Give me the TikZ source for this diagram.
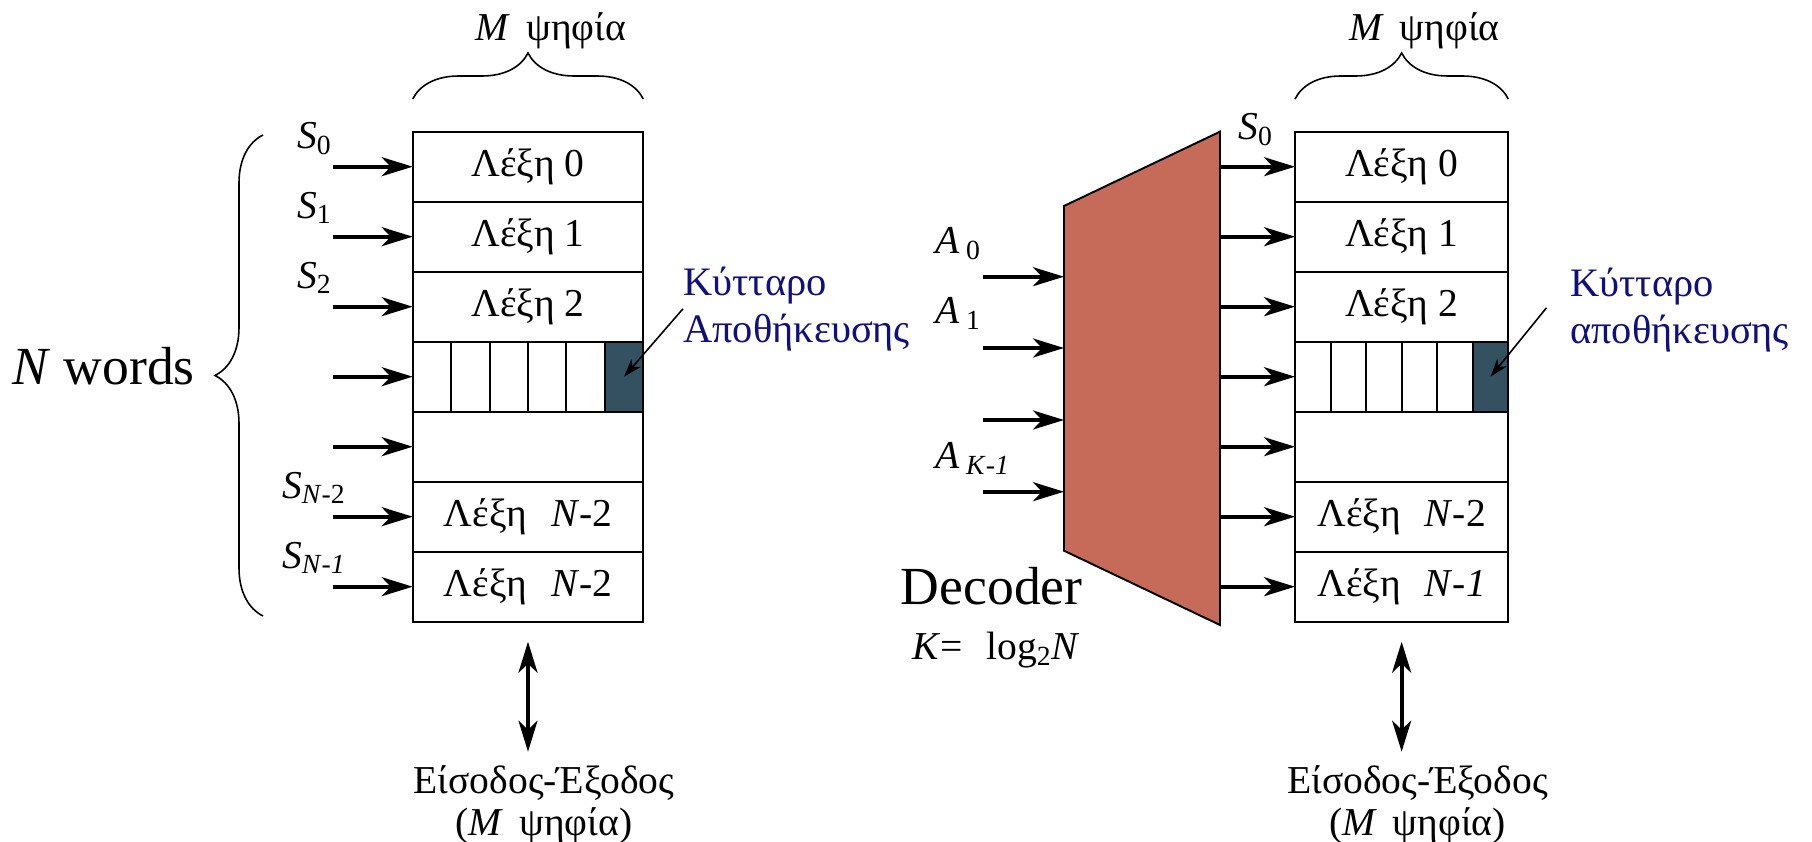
\documentclass[tikz,border=0pt]{standalone}
\usepackage{fontspec}
\setmainfont{Liberation Serif}
\usepackage{xcolor}
\usepackage{tikz}
\usetikzlibrary{arrows.meta,positioning,decorations.pathreplacing,calc}
\definecolor{celldark}{RGB}{52,81,97}
\definecolor{decfill}{RGB}{198,107,90}
\definecolor{notenavy}{RGB}{15,15,125}
\tikzset{
  bighead/.tip={Stealth[length=0.62cm, width=0.38cm, inset=0.18cm]},
  smallhead/.tip={Stealth[length=0.36cm, width=0.24cm, inset=0.1cm]},
  wordrow/.style={draw, line width=1.1pt, minimum height=1.4cm, inner sep=0pt,
                  outer sep=0pt, font=\fontsize{22.5}{24}\selectfont},
  bitcell/.style={draw, line width=1.1pt, minimum height=1.4cm, inner sep=0pt, outer sep=0pt},
  selarrow/.style={-bighead, line width=2.2pt},
  ioarrow/.style={bighead-bighead, line width=2.2pt},
  notearrow/.style={-smallhead, line width=0.9pt},
  curly/.style={decorate, decoration={brace, amplitude=0.92cm}, line width=0.9pt},
  lbl/.style={inner sep=0pt, font=\fontsize{22.5}{24}\selectfont},
  biglbl/.style={inner sep=0pt, font=\fontsize{30.5}{36}\selectfont},
  note/.style={inner sep=0pt, align=left, text=notenavy, font=\fontsize{23}{26.6}\selectfont},
  decoder/.style={draw, line width=1.1pt, fill=decfill},
}
\newcommand{\sig}[2]{\textit{#1}\textsubscript{#2}}
% one memory of N words, #1 prefix, #2 width, #3 last word
\newcommand{\memblock}[3]{%
  \node[wordrow, minimum width=#2, anchor=north west] (#1w0) at (0,0) {Λέξη 0};
  \node[wordrow, minimum width=#2, below=0pt of #1w0] (#1w1) {Λέξη 1};
  \node[wordrow, minimum width=#2, below=0pt of #1w1] (#1w2) {Λέξη 2};
  \node[wordrow, minimum width=#2, below=0pt of #1w2] (#1w3) {};
  \node[wordrow, minimum width=#2, below=0pt of #1w3] (#1w4) {};
  \node[wordrow, minimum width=#2, below=0pt of #1w4] (#1w5) {Λέξη\hspace{0.6em}\textit{N}-2};
  \node[wordrow, minimum width=#2, below=0pt of #1w5] (#1w6) {Λέξη\hspace{0.6em}#3};
  \node[bitcell, minimum width=#2/6, anchor=west] (#1c1) at (#1w3.west) {};
  \node[bitcell, minimum width=#2/6, right=0pt of #1c1] (#1c2) {};
  \node[bitcell, minimum width=#2/6, right=0pt of #1c2] (#1c3) {};
  \node[bitcell, minimum width=#2/6, right=0pt of #1c3] (#1c4) {};
  \node[bitcell, minimum width=#2/6, right=0pt of #1c4] (#1c5) {};
  \node[bitcell, minimum width=#2/6, right=0pt of #1c5, fill=celldark] (#1c6) {};
}

\begin{document}
\begin{tikzpicture}[font=\fontsize{22.5}{24}\selectfont]
    \useasboundingbox (0,0) rectangle (36.24,-16.84);
    % left: memory with select lines
    \begin{scope}[shift={(8.254,-2.634)}]
      \memblock{L}{4.612cm}{\textit{N}-2}
    \end{scope}
    \draw[selarrow] ([xshift=-1.6cm]Lw0.west) -- (Lw0.west);
    \draw[selarrow] ([xshift=-1.6cm]Lw1.west) -- (Lw1.west);
    \draw[selarrow] ([xshift=-1.6cm]Lw2.west) -- (Lw2.west);
    \draw[selarrow] ([xshift=-1.6cm]Lw3.west) -- (Lw3.west);
    \draw[selarrow] ([xshift=-1.6cm]Lw4.west) -- (Lw4.west);
    \draw[selarrow] ([xshift=-1.6cm]Lw5.west) -- (Lw5.west);
    \draw[selarrow] ([xshift=-1.6cm]Lw6.west) -- (Lw6.west);
    \node[lbl, anchor=base west] (ls0) at ([xshift=-2.32cm, yshift=0.37cm]Lw0.west) {\sig{S}{0}};
    \node[lbl, anchor=base west] (ls1) at ([xshift=-2.32cm, yshift=0.37cm]Lw1.west) {\sig{S}{1}};
    \node[lbl, anchor=base west] (ls2) at ([xshift=-2.32cm, yshift=0.37cm]Lw2.west) {\sig{S}{2}};
    \node[lbl, anchor=base west] (lsn2) at ([xshift=-2.62cm, yshift=0.37cm]Lw5.west) {\sig{S}{\textit{N}-2}};
    \node[lbl, anchor=base west] (lsn1) at ([xshift=-2.62cm, yshift=0.37cm]Lw6.west) {\sig{S}{\textit{N}-\textit{1}}};
    \draw[curly] ([yshift=0.654cm]Lw0.north west) -- ([yshift=0.654cm]Lw0.north east);
    \node[lbl, anchor=base] (lbits) at (11.02,-0.814) {\textit{M}\hspace{0.4em}ψηφία};
    \draw[curly, decoration={brace, amplitude=0.96cm}] (5.26,-12.32) -- (5.26,-2.7);
    \node[biglbl, anchor=base west] (nwords) at (0.234,-7.7) {\textit{N} words};
    \node[note, anchor=north west] (lnote) at (13.66,-5.33) {Κύτταρο\\Αποθήκευσης};
    \draw[notearrow] (lnote.west) -- (Lc6.center);
    \draw[ioarrow] ([yshift=-0.4cm]Lw6.south) -- ([yshift=-2.6cm]Lw6.south);
    \node[lbl, align=center, anchor=north] (lio) at (10.88,-15.3) {Είσοδος-Έξοδος\\(\textit{M}\hspace{0.4em}ψηφία)};

    % right: decoder driving the memory
    \begin{scope}[shift={(25.9,-2.634)}]
      \memblock{R}{4.266cm}{\textit{N}-\textit{1}}
    \end{scope}
    \coordinate (dtl) at (21.28,-4.12);
    \coordinate (dtr) at (24.4,-2.634);
    \coordinate (dbr) at (24.4,-12.5);
    \coordinate (dbl) at (21.28,-11.014);
    \draw[decoder] (dtl) -- (dtr) -- (dbr) -- (dbl) -- cycle;
    \draw[selarrow] (dtr |- Rw0.west) -- (Rw0.west);
    \draw[selarrow] (dtr |- Rw1.west) -- (Rw1.west);
    \draw[selarrow] (dtr |- Rw2.west) -- (Rw2.west);
    \draw[selarrow] (dtr |- Rw3.west) -- (Rw3.west);
    \draw[selarrow] (dtr |- Rw4.west) -- (Rw4.west);
    \draw[selarrow] (dtr |- Rw5.west) -- (Rw5.west);
    \draw[selarrow] (dtr |- Rw6.west) -- (Rw6.west);
    \node[lbl, anchor=base west] (rs0) at ([xshift=-1.14cm, yshift=0.534cm]Rw0.west) {\sig{S}{0}};
    \coordinate (a0) at (19.666,-5.534);
    \coordinate (a1) at (19.666,-6.96);
    \coordinate (a2) at (19.666,-8.4);
    \coordinate (a3) at (19.666,-9.834);
    \draw[selarrow] (a0) -- (a0 -| dtl);
    \draw[selarrow] (a1) -- (a1 -| dtl);
    \draw[selarrow] (a2) -- (a2 -| dtl);
    \draw[selarrow] (a3) -- (a3 -| dtl);
    \node[lbl, anchor=base west] (la0) at ([xshift=-0.966cm, yshift=0.47cm]a0) {\textit{A}\,\textsubscript{0}};
    \node[lbl, anchor=base west] (la1) at ([xshift=-0.966cm, yshift=0.494cm]a1) {\textit{A}\,\textsubscript{1}};
    \node[lbl, anchor=base west] (lak) at ([xshift=-0.966cm, yshift=0.468cm]a3) {\textit{A}\,\textsubscript{\textit{K}-\textit{1}}};
    \node[biglbl, anchor=base] (declbl) at (19.834,-12.1) {Decoder};
    \node[lbl, anchor=base] (klog) at (19.92,-13.2) {\textit{K}=\hspace{0.6em}log\textsubscript{2}\textit{N}};
    \draw[curly] ([yshift=0.654cm]Rw0.north west) -- ([yshift=0.654cm]Rw0.north east);
    \node[lbl, anchor=base] (rbits) at (28.49,-0.814) {\textit{M}\hspace{0.4em}ψηφία};
    \node[note, anchor=north west] (rnote) at (31.4,-5.36) {Κύτταρο\\αποθήκευσης};
    \draw[notearrow] ([xshift=-0.47cm, yshift=0.05cm]rnote.west) -- (Rc6.center);
    \draw[ioarrow] ([yshift=-0.4cm]Rw6.south) -- ([yshift=-2.6cm]Rw6.south);
    \node[lbl, align=center, anchor=north] (rio) at (28.35,-15.3) {Είσοδος-Έξοδος\\(\textit{M}\hspace{0.4em}ψηφία)};
\end{tikzpicture}
\end{document}
